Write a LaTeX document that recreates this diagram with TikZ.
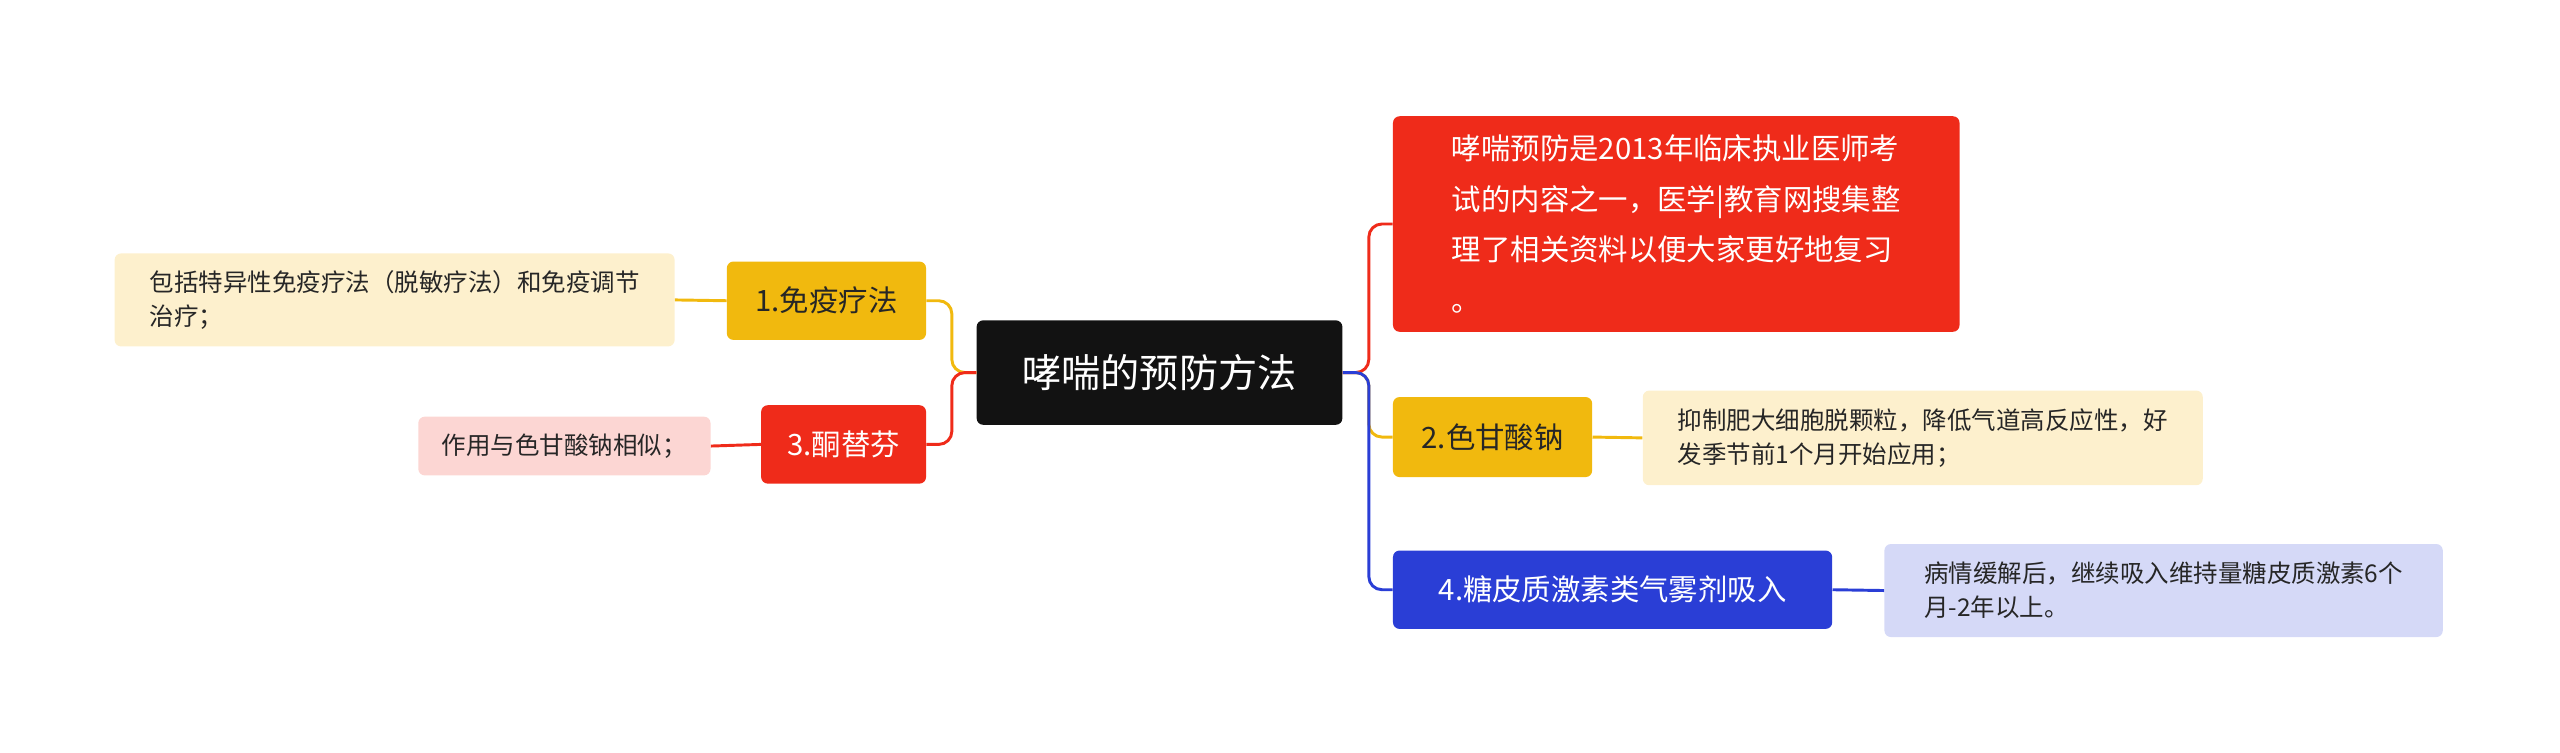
\documentclass[tikz,border=0pt]{standalone}
\usepackage{fontspec}
\setmainfont{Noto Sans CJK SC}
\begin{document}
\begin{tikzpicture}[x=1pt,y=1pt,
  box/.style={anchor=north west,rounded corners=4,inner sep=0pt,align=left},
  conn/.style={line width=1.8pt,rounded corners=8}]
\definecolor{cred}{HTML}{EF2B1A}
\definecolor{cyel}{HTML}{F1B90E}
\definecolor{cblue}{HTML}{2A3ED6}
\definecolor{lyel}{HTML}{FDF0CD}
\definecolor{lpink}{HTML}{FCD6D3}
\definecolor{lblue}{HTML}{D5D9F7}
\useasboundingbox (0,0) rectangle (1568,-461);
% nodes
\node[box,fill=black!93,text=white,minimum width=224,minimum height=64,align=center,font=\fontsize{24}{28}\selectfont] (c) at (598,-196) {哮喘的预防方法};
\node[box,fill=cyel,text=black!85,minimum width=122,minimum height=48,align=center,font=\fontsize{18}{22}\selectfont] (b1) at (445,-160) {1.免疫疗法};
\node[box,fill=cred,text=white,minimum width=101,minimum height=48,align=center,font=\fontsize{18}{22}\selectfont] (b3) at (466,-248) {3.酮替芬};
\node[box,fill=lyel,text=black!85,minimum width=343,minimum height=57,font=\fontsize{15}{21}\selectfont,inner xsep=9pt] (l1) at (70,-155) {包括特异性免疫疗法（脱敏疗法）和免疫调节\\治疗；};
\node[box,fill=lpink,text=black!85,minimum width=179,minimum height=36,align=center,font=\fontsize{15}{20}\selectfont] (l3) at (256,-255) {作用与色甘酸钠相似；};
\node[box,fill=cred,text=white,minimum width=347,minimum height=132,font=\fontsize{18}{31}\selectfont,inner xsep=12pt] (r0) at (853,-71) {哮喘预防是2013年临床执业医师考\\试的内容之一，医学|教育网搜集整\\理了相关资料以便大家更好地复习\\。};
\node[box,fill=cyel,text=black!85,minimum width=122,minimum height=49,align=center,font=\fontsize{18}{22}\selectfont] (b2) at (853,-243) {2.色甘酸钠};
\node[box,fill=lyel,text=black!85,minimum width=343,minimum height=58,font=\fontsize{15}{21}\selectfont,inner xsep=9pt] (l2) at (1006,-239) {抑制肥大细胞脱颗粒，降低气道高反应性，好\\发季节前1个月开始应用；};
\node[box,fill=cblue,text=white,minimum width=269,minimum height=48,align=center,font=\fontsize{18}{22}\selectfont] (b4) at (853,-337) {4.糖皮质激素类气雾剂吸入};
\node[box,fill=lblue,text=black!85,minimum width=342,minimum height=57,font=\fontsize{15}{21}\selectfont,inner xsep=9pt] (l4) at (1154,-333) {病情缓解后，继续吸入维持量糖皮质激素6个\\月-2年以上。};
% connectors
\coordinate (jr) at ([xshift=16pt]c.east);
\coordinate (jl) at ([xshift=-15pt]c.west);
\draw[conn,cred] (c.east) -- (jr) |- (r0.west);
\draw[conn,cyel] (c.east) -- (jr) |- (b2.west);
\draw[conn,cblue] (c.east) -- (jr) |- (b4.west);
\draw[conn,cyel] (c.west) -- (jl) |- (b1.east);
\draw[conn,cred] (c.west) -- (jl) |- (b3.east);
\draw[line width=1.8pt,cyel] (b1.west) -- (l1.east);
\draw[line width=1.8pt,cred] (b3.west) -- (l3.east);
\draw[line width=1.8pt,cyel] (b2.east) -- (l2.west);
\draw[line width=1.8pt,cblue] (b4.east) -- (l4.west);
\end{tikzpicture}
\end{document}
